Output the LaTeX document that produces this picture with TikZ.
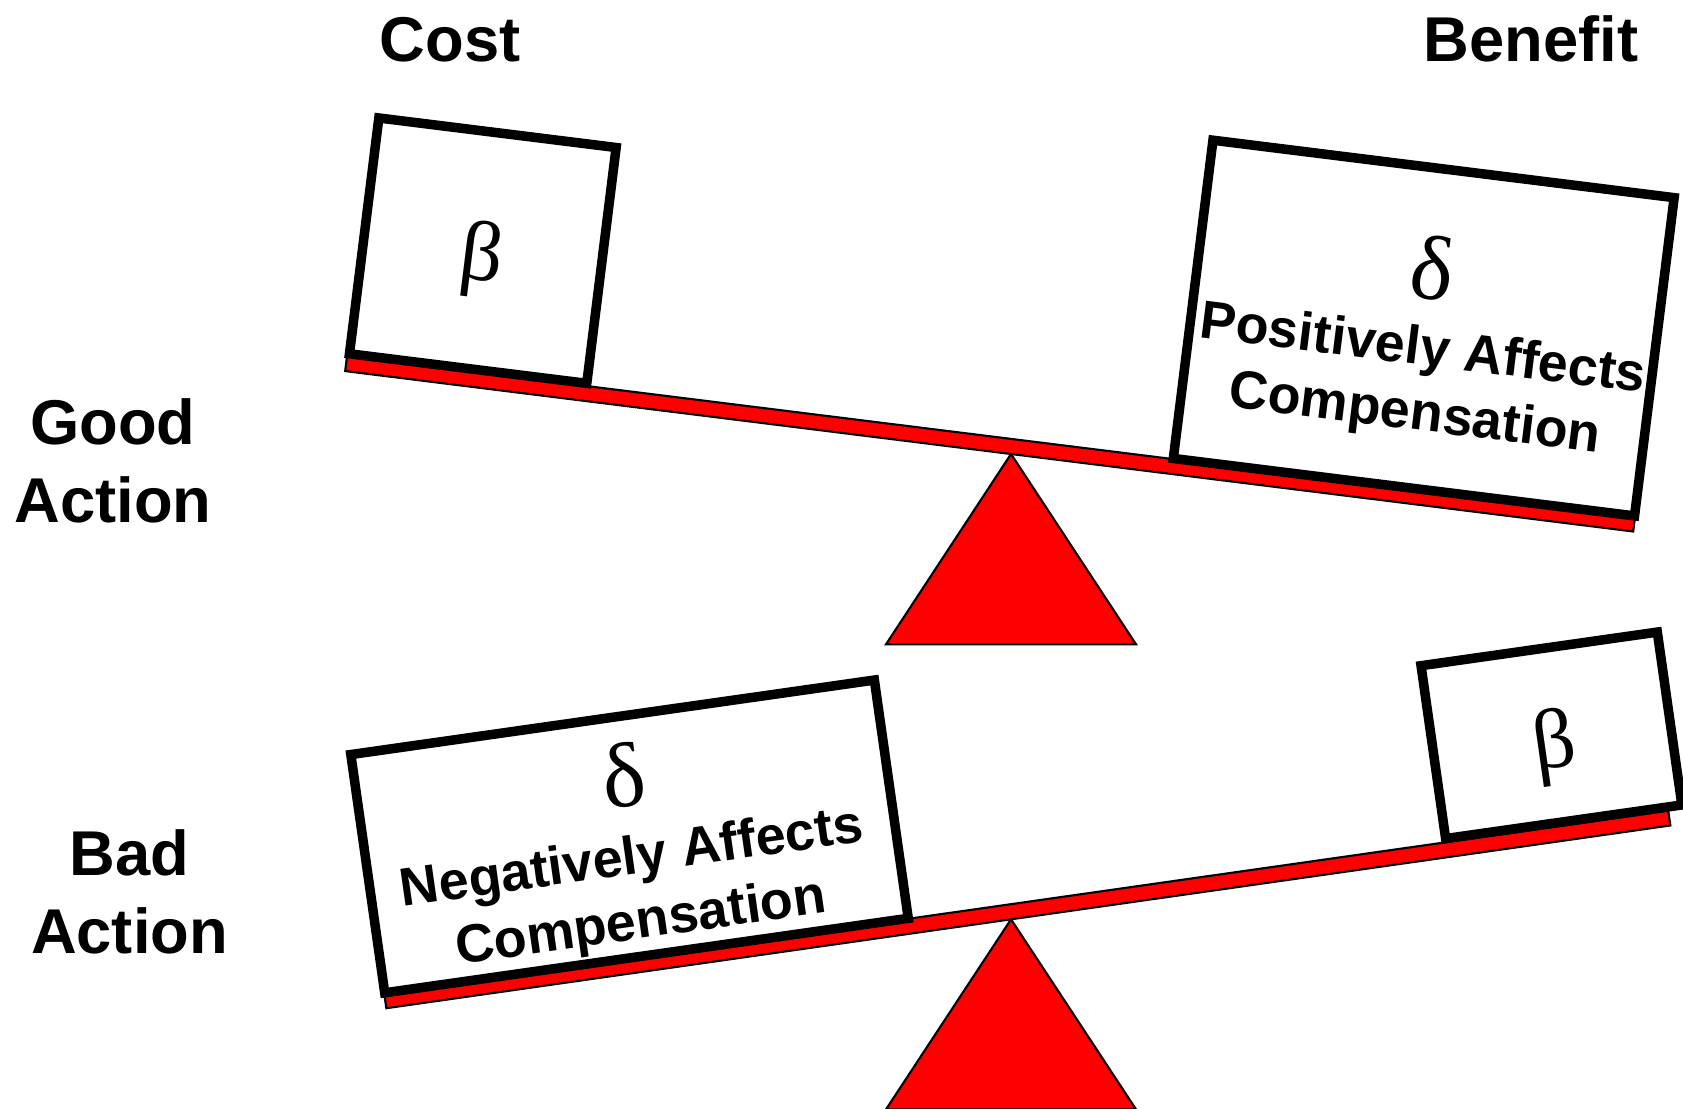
\documentclass[tikz,border=0pt]{standalone}
\usepackage{fontspec}
\setmainfont{Liberation Sans}
\newfontfamily\greekfont{Liberation Serif}

\begin{document}
\begin{tikzpicture}[x=0.01cm,y=0.01cm,
    box/.style={draw, fill=white, line width=0.095cm, inner sep=0pt, outer sep=0pt},
    beam/.style={draw, fill=red, line width=0.6pt},
    pivot/.style={draw, fill=red, line width=0.6pt},
    heading/.style={font=\bfseries\fontsize{18}{22.1}\selectfont, align=center, anchor=base},
    effect/.style={font=\bfseries\fontsize{15.3}{18.5}\selectfont, align=center, anchor=base},
    greek/.style={font=\greekfont\fontsize{24}{28}\selectfont, inner sep=0pt},
    bigreek/.style={font=\greekfont\fontsize{26}{30}\selectfont, inner sep=0pt}]
  \useasboundingbox (0,0) rectangle (1683,1108);

  % headings
  \node[heading] (cost) at (450,1046.3) {Cost};
  \node[heading] (benefit) at (1531,1046.3) {Benefit};
  \node[heading] (good) at (113,585.3) {Good\\Action};
  \node[heading] (bad) at (129.5,154.7) {Bad\\Action};

  % good action
  \draw[pivot] (1011,654) -- (886,463.7) -- (1136,463.7) -- cycle;
  \begin{scope}[shift={(1011,654)}, rotate=-7.1, transform shape]
    \draw[beam] (-671,0) rectangle (627,15);
    \node[box, minimum width=2.39cm, minimum height=2.375cm] (goodcost) at (-549.3,136.5) {};
    \node[greek] (goodbeta) at (-550,127.5) {β};
    \node[box, minimum width=4.645cm, minimum height=3.205cm] (goodbenefit) at (394,176) {};
    \node[bigreek] (gooddelta) at (395,237) {δ};
    \node[effect] (goodeffect) at (396,74) {Positively Affects\\Compensation};
  \end{scope}

  % bad action
  \draw[pivot] (1011,188.7) -- (886,-1.3) -- (1136,-1.3) -- cycle;
  \begin{scope}[shift={(1011,188.7)}, rotate=8.1, transform shape]
    \draw[beam] (-631,0) rectangle (666,15);
    \node[box, minimum width=5.285cm, minimum height=2.405cm] (badcost) at (-366,135.8) {};
    \node[bigreek] (baddelta) at (-363.5,196.8) {δ};
    \node[effect] (badeffect) at (-367,33) {Negatively Affects\\Compensation};
    \node[box, minimum width=2.385cm, minimum height=1.745cm] (badbenefit) at (561,106) {};
    \node[greek] (badbeta) at (562.8,93.6) {β};
  \end{scope}
\end{tikzpicture}
\end{document}
